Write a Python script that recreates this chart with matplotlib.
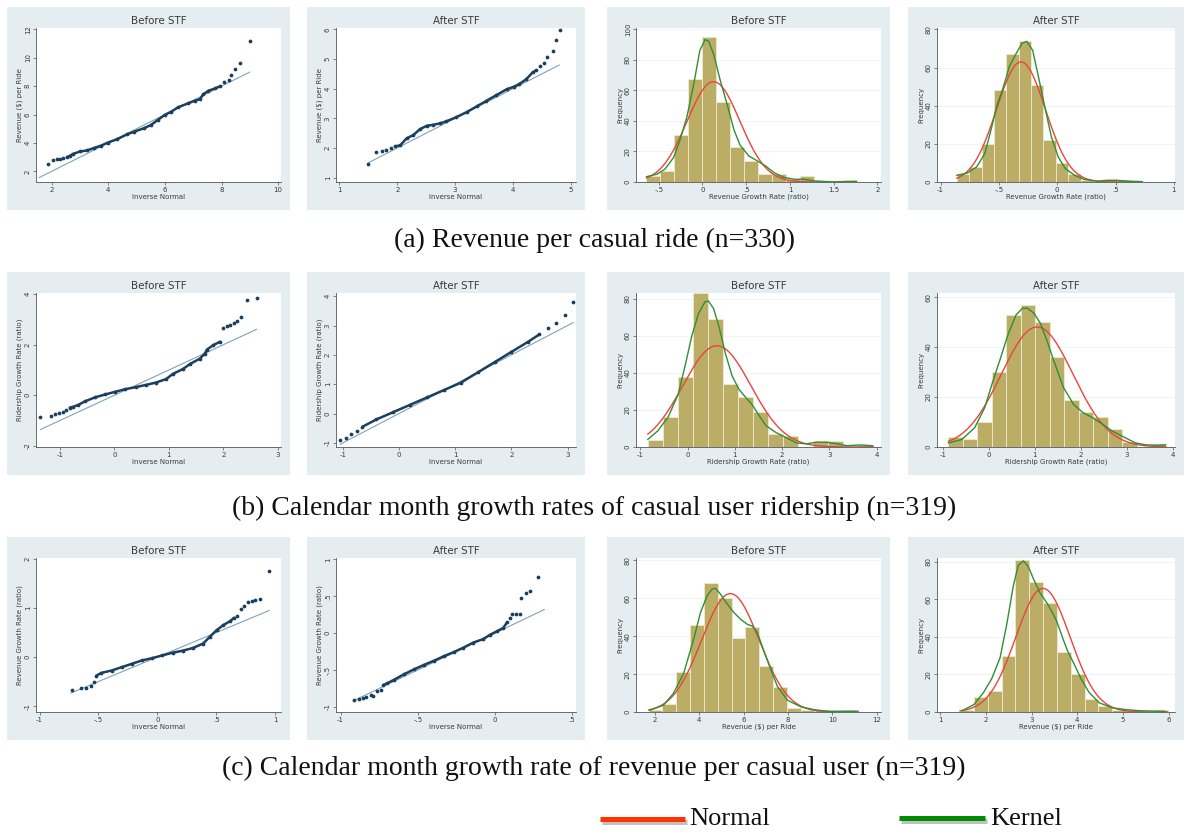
import numpy as np
import matplotlib.pyplot as plt
from matplotlib.patches import Rectangle
import matplotlib.patheffects as pe

W, H = 1189, 833
BG = '#e6edf1'
NAVY = '#1b3f5e'
REFLINE = '#7fa4b4'
BAR = '#bbad66'
BAR_EDGE = '#efe9cf'
RED = '#e8453c'
GREEN = '#2f8f35'
TXT = '#3a3a3a'

# ---------------- Q-Q data: (inverse normal, observed) ----------------
qq_a1_low = [(1.88, 2.54), (2.06, 2.82), (2.18, 2.86), (2.30, 2.89), (2.42, 2.91)]
qq_a1_body = [(2.54, 3.00), (2.65, 3.10), (2.77, 3.24), (3.01, 3.40), (3.25, 3.47), (3.49, 3.64),
              (3.73, 3.80), (3.99, 4.03), (4.32, 4.27), (4.68, 4.62), (4.92, 4.80), (5.27, 5.04),
              (5.51, 5.27), (5.75, 5.62), (5.99, 5.97), (6.23, 6.21), (6.46, 6.51), (6.82, 6.79),
              (7.06, 6.98), (7.24, 7.09), (7.36, 7.44), (7.54, 7.68), (7.77, 7.84), (7.95, 8.00)]
qq_a1_high = [(8.07, 8.31), (8.25, 8.43), (8.35, 8.78), (8.49, 9.20), (8.67, 9.66), (8.99, 11.18)]
qq_a1_ref = (1.56, 8.99)

qq_a2_low = [(1.50, 1.46), (1.64, 1.86), (1.73, 1.91), (1.80, 1.93), (1.89, 2.00)]
qq_a2_body = [(1.96, 2.05), (2.05, 2.09), (2.16, 2.32), (2.28, 2.44), (2.39, 2.63), (2.51, 2.75),
              (2.62, 2.78), (2.74, 2.83), (2.85, 2.90), (3.01, 3.03), (3.20, 3.21), (3.37, 3.40),
              (3.54, 3.59), (3.71, 3.78), (3.89, 3.98), (4.02, 4.07), (4.11, 4.16), (4.23, 4.32),
              (4.34, 4.55), (4.40, 4.62)]
qq_a2_high = [(4.47, 4.76), (4.53, 4.87), (4.59, 5.08), (4.69, 5.28), (4.74, 5.66), (4.82, 5.97)]
qq_a2_ref = (1.50, 4.80)

qq_b1_low = [(-1.36, -0.86), (-1.17, -0.81), (-1.09, -0.76), (-1.01, -0.72), (-0.94, -0.65), (-0.88, -0.58)]
qq_b1_body = [(-0.82, -0.49), (-0.76, -0.46), (-0.66, -0.38), (-0.54, -0.24), (-0.35, -0.08), (-0.17, 0.03),
              (0.02, 0.14), (0.20, 0.24), (0.39, 0.32), (0.58, 0.41), (0.76, 0.50), (0.95, 0.64),
              (1.07, 0.84), (1.26, 1.04), (1.39, 1.24), (1.57, 1.45), (1.66, 1.65), (1.70, 1.81),
              (1.82, 1.99), (1.94, 2.12)]
qq_b1_high = [(2.00, 2.66), (2.06, 2.73), (2.12, 2.80), (2.19, 2.86), (2.25, 2.93), (2.33, 3.11),
              (2.44, 3.78), (2.61, 3.85)]
qq_b1_ref = (-1.36, 2.61)

qq_b2_low = [(-1.05, -0.90), (-0.95, -0.82), (-0.85, -0.70), (-0.75, -0.58)]
qq_b2_body = [(-0.65, -0.45), (-0.40, -0.20), (-0.10, 0.05), (0.20, 0.30), (0.50, 0.55), (0.80, 0.80),
              (1.10, 1.05), (1.40, 1.40), (1.70, 1.75), (2.00, 2.10), (2.30, 2.45), (2.50, 2.70)]
qq_b2_high = [(2.65, 2.90), (2.80, 3.10), (2.95, 3.35), (3.10, 3.80)]
qq_b2_ref = (-1.05, 3.10)

qq_c1_low = [(-0.724, -0.664), (-0.647, -0.637), (-0.603, -0.623), (-0.566, -0.596), (-0.537, -0.500)]
qq_c1_body = [(-0.517, -0.377), (-0.474, -0.322), (-0.388, -0.274), (-0.302, -0.205), (-0.216, -0.137),
              (-0.129, -0.068), (-0.043, -0.021), (0.043, 0.034), (0.129, 0.089), (0.216, 0.130),
              (0.302, 0.185), (0.388, 0.274), (0.445, 0.411), (0.503, 0.548), (0.560, 0.651),
              (0.618, 0.733), (0.652, 0.801)]
qq_c1_high = [(0.675, 0.842), (0.710, 0.973), (0.733, 1.048), (0.770, 1.116), (0.805, 1.144),
              (0.833, 1.158), (0.871, 1.185), (0.948, 1.760)]
qq_c1_ref = (-0.733, 0.948)

qq_c2_low = [(-0.916, -0.901), (-0.880, -0.892), (-0.858, -0.878), (-0.833, -0.864), (-0.805, -0.840),
             (-0.790, -0.850), (-0.766, -0.784), (-0.740, -0.775)]
qq_c2_body = [(-0.723, -0.704), (-0.697, -0.680), (-0.655, -0.634), (-0.590, -0.559), (-0.526, -0.493),
              (-0.461, -0.432), (-0.397, -0.376), (-0.333, -0.315), (-0.268, -0.258), (-0.204, -0.197),
              (-0.139, -0.127), (-0.075, -0.080), (-0.032, -0.023), (0.011, 0.023), (0.054, 0.070),
              (0.079, 0.146)]
qq_c2_high = [(0.097, 0.202), (0.114, 0.258), (0.139, 0.263), (0.161, 0.258), (0.172, 0.474),
              (0.204, 0.540), (0.230, 0.577), (0.279, 0.756)]
qq_c2_ref = (-0.92, 0.32)

# ---------------- histogram data ----------------
# first bin edge, bin width, frequencies; fitted normal (mean, sd); kernel density curve
hist_a3_start, hist_a3_width = -0.64, 0.16
hist_a3_counts = [4, 7, 31, 67, 95, 52, 23, 14, 5, 5, 2, 4, 0, 0, 1]
norm_a3 = (0.126, 0.302)
kern_a3_x = [-0.64, -0.52, -0.43, -0.33, -0.26, -0.18, -0.10, -0.03, 0.03, 0.07, 0.13, 0.20, 0.28,
             0.36, 0.43, 0.53, 0.62, 0.72, 0.82, 0.93, 1.05, 1.16, 1.28, 1.50, 1.66, 1.76]
kern_a3_y = [3.5, 5.1, 8.4, 16, 27, 42, 64, 86, 93, 92, 83, 67, 51, 34, 24, 17, 14, 10.5, 6, 3,
             1.8, 1.8, 0.7, 0, 0.3, 0.4]

hist_a4_start, hist_a4_width = -0.86, 0.106
hist_a4_counts = [4, 8, 20, 48, 67, 74, 51, 22, 10, 4, 1, 0, 1, 1, 0]
norm_a4 = (-0.31, 0.209)
kern_a4_x = [-0.86, -0.77, -0.69, -0.62, -0.56, -0.52, -0.46, -0.41, -0.35, -0.30, -0.26, -0.21,
             -0.16, -0.10, -0.05, 0.01, 0.07, 0.15, 0.23, 0.34, 0.43, 0.51, 0.62, 0.73]
kern_a4_y = [3.5, 4.7, 7.9, 14.9, 29, 39.5, 50, 60.5, 67.5, 72.8, 73.7, 69, 55, 37.7, 23.7, 13, 7,
             3.5, 1.4, 0.4, 0.9, 0.9, 0.4, 0.2]

hist_b3_start, hist_b3_width = -0.84, 0.318
hist_b3_counts = [4, 16, 38, 83, 69, 34, 27, 19, 7, 6, 0, 3, 3, 0, 1]
norm_b3 = (0.62, 0.719)
kern_b3_x = [-0.84, -0.63, -0.41, -0.20, -0.06, 0.09, 0.23, 0.37, 0.44, 0.55, 0.66, 0.80, 0.94,
             1.09, 1.23, 1.37, 1.51, 1.66, 1.87, 2.09, 2.30, 2.51, 2.73, 2.94, 3.16, 3.37, 3.66, 3.91]
kern_b3_y = [4.1, 8.7, 16.2, 28.3, 43, 60, 72, 78.5, 78.9, 74.8, 65.5, 50.6, 38.5, 31, 26.8, 22.7,
             17.1, 11.5, 7.8, 5, 2.2, 1.7, 2.6, 2.6, 1.7, 0.7, 1.1, 0.7]

hist_b4_start, hist_b4_width = -0.88, 0.315
hist_b4_counts = [4, 3, 10, 30, 53, 57, 50, 36, 19, 14, 12, 7, 2, 0, 1]
norm_b4 = (1.05, 0.78)
kern_b4_x = [-0.88, -0.59, -0.31, -0.09, 0.09, 0.26, 0.41, 0.59, 0.73, 0.84, 0.98, 1.12, 1.26,
             1.41, 1.62, 1.84, 2.05, 2.26, 2.48, 2.69, 2.98, 3.19, 3.41, 3.62, 3.84]
kern_b4_y = [1.6, 3, 7.7, 15.8, 26.5, 36, 44.7, 52.8, 55.5, 55.5, 53.5, 49.5, 42.7, 34.6, 23.9,
             17.1, 13.7, 11.7, 9, 6.3, 3.6, 1.6, 0.9, 0.7, 0.9]

hist_c3_start, hist_c3_width = 1.71, 0.624
hist_c3_counts = [1, 4, 21, 46, 68, 60, 39, 45, 24, 13, 2, 1, 1, 0, 1]
norm_c3 = (5.40, 1.30)
kern_c3_x = [1.77, 2.38, 2.83, 3.29, 3.74, 4.05, 4.35, 4.58, 4.73, 4.95, 5.26, 5.56, 5.86, 6.17,
             6.39, 6.62, 6.92, 7.23, 7.53, 7.98, 8.59, 9.20, 9.80, 10.41, 11.17]
kern_c3_y = [0.9, 3.6, 9.8, 20.4, 38.2, 52.4, 61.3, 64.9, 65.2, 62.2, 56.9, 52.4, 48.9, 46.2,
             45.3, 41.8, 32, 22.2, 13.3, 6.2, 2.7, 1.2, 0.4, 0.4, 0.4]

hist_c4_start, hist_c4_width = 1.433, 0.303
hist_c4_counts = [1, 8, 11, 30, 81, 69, 58, 32, 20, 7, 3, 1, 1, 0, 1]
norm_c4 = (3.25, 0.594)
kern_c4_x = [1.48, 1.74, 1.95, 2.13, 2.31, 2.46, 2.60, 2.71, 2.82, 2.93, 3.04, 3.18, 3.36, 3.54,
             3.69, 3.79, 3.94, 4.08, 4.26, 4.48, 4.77, 5.06, 5.35, 5.64, 5.92]
kern_c4_y = [0.7, 4, 10.4, 17.8, 28.8, 47, 67, 78, 80.4, 77.3, 70.9, 63.6, 57.1, 48.9, 38.8, 32.4,
             25.1, 17.8, 10.4, 4.9, 2.2, 1.3, 0.7, 0.5, 0.4]

captions = ["(a) Revenue per casual ride (n=330)",
            "(b) Calendar month growth rates of casual user ridership (n=319)",
            "(c) Calendar month growth rate of revenue per casual user (n=319)"]
legend_labels = ["Normal", "Kernel"]

# ---------------- layout (pixels) ----------------
col_x = [(7, 290), (307, 585), (607, 890), (908, 1184)]
row_y = [7, 272, 537]
PANEL_H = 203

fig = plt.figure(figsize=(W / 100, H / 100), dpi=100)
fig.patch.set_facecolor('white')


def stata_fmt(v):
    s = f'{v:g}'
    if s.startswith('0.'):
        s = s[1:]
    elif s.startswith('-0.'):
        s = '-' + s[2:]
    return s


def make_panel(col, row, title, xlabel, ylabel, xlim, xticks, ylim, yticks, grid=False):
    bx0, bx1 = col_x[col]
    by0 = row_y[row]
    fig.patches.append(Rectangle((bx0 / W, 1 - (by0 + PANEL_H) / H), (bx1 - bx0) / W, PANEL_H / H,
                                 transform=fig.transFigure, facecolor=BG, edgecolor='none', zorder=-5))
    ax0, ax1 = bx0 + 29, bx1 - 9
    ay0, ay1 = by0 + 21, by0 + 175
    ax = fig.add_axes([ax0 / W, 1 - ay1 / H, (ax1 - ax0) / W, (ay1 - ay0) / H])
    ax.set_zorder(2)
    ax.set_facecolor('white')
    ax.set_xlim(*xlim)
    ax.set_ylim(*ylim)
    ax.set_xticks(xticks)
    ax.set_xticklabels([stata_fmt(v) for v in xticks])
    ax.set_yticks(yticks)
    ax.set_yticklabels([stata_fmt(v) for v in yticks], rotation=90, va='center')
    for s in ('top', 'right'):
        ax.spines[s].set_visible(False)
    for s in ('left', 'bottom'):
        ax.spines[s].set_color('#555555')
        ax.spines[s].set_linewidth(0.6)
    ax.tick_params(length=2.2, width=0.5, color='#555555', labelsize=5, labelcolor=TXT, pad=1.5)
    ax.set_title(title, fontsize=7.4, color=TXT, pad=3)
    ax.set_xlabel(xlabel, fontsize=5, color=TXT, labelpad=0.5)
    ax.set_ylabel(ylabel, fontsize=5, color=TXT, labelpad=1)
    if grid:
        ax.yaxis.grid(True, color='#edf1f3', lw=0.6)
        ax.set_axisbelow(True)
    return ax


def draw_qq(ax, low, body, high, ref):
    r = np.array(ref)
    ax.plot(r, r, color=REFLINE, lw=0.8, zorder=2)
    b = np.array(body)
    ax.plot(b[:, 0], b[:, 1], color=NAVY, lw=1.8, solid_capstyle='round', zorder=3)
    pts = np.array(low + body + high)
    ax.plot(pts[:, 0], pts[:, 1], 'o', ms=1.7, color=NAVY, mec=NAVY, zorder=4)


def draw_hist(ax, start, width, counts, norm, kx, ky):
    counts = np.asarray(counts, float)
    edges = start + width * np.arange(len(counts))
    ax.bar(edges, counts, width=width, align='edge', color=BAR, edgecolor=BAR_EDGE, lw=0.6, zorder=2)
    n = counts.sum()
    mu, sd = norm
    xs = np.linspace(edges[0], edges[-1] + width, 300)
    ys = n * width * np.exp(-0.5 * ((xs - mu) / sd) ** 2) / (sd * np.sqrt(2 * np.pi))
    ax.plot(xs, ys, color=RED, lw=1.0, zorder=4)
    ax.plot(kx, ky, color=GREEN, lw=1.0, zorder=5)


REV = r'Revenue (\$) per Ride'
GROW_REV = 'Revenue Growth Rate (ratio)'
GROW_RID = 'Ridership Growth Rate (ratio)'

# ---- row (a) ----
ax = make_panel(0, 0, 'Before STF', 'Inverse Normal', REV, (1.45, 10.1), [2, 4, 6, 8, 10],
                (1.25, 12.1), [2, 4, 6, 8, 10, 12])
draw_qq(ax, qq_a1_low, qq_a1_body, qq_a1_high, qq_a1_ref)
ax = make_panel(1, 0, 'After STF', 'Inverse Normal', REV, (0.94, 5.09), [1, 2, 3, 4, 5],
                (0.85, 6.05), [1, 2, 3, 4, 5, 6])
draw_qq(ax, qq_a2_low, qq_a2_body, qq_a2_high, qq_a2_ref)
ax = make_panel(2, 0, 'Before STF', GROW_REV, 'Frequency', (-0.76, 2.04), [-0.5, 0, 0.5, 1, 1.5, 2],
                (0, 100.6), [0, 20, 40, 60, 80, 100], grid=True)
draw_hist(ax, hist_a3_start, hist_a3_width, hist_a3_counts, norm_a3, kern_a3_x, kern_a3_y)
ax = make_panel(3, 0, 'After STF', GROW_REV, 'Frequency', (-1.03, 1.01), [-1, -0.5, 0, 0.5, 1],
                (0, 80.7), [0, 20, 40, 60, 80], grid=True)
draw_hist(ax, hist_a4_start, hist_a4_width, hist_a4_counts, norm_a4, kern_a4_x, kern_a4_y)

# ---- row (b) ----
ax = make_panel(0, 1, 'Before STF', 'Inverse Normal', GROW_RID, (-1.44, 3.06), [-1, 0, 1, 2, 3],
                (-2.05, 4.05), [-2, 0, 2, 4])
draw_qq(ax, qq_b1_low, qq_b1_body, qq_b1_high, qq_b1_ref)
ax = make_panel(1, 1, 'After STF', 'Inverse Normal', GROW_RID, (-1.12, 3.15), [-1, 0, 1, 2, 3],
                (-1.14, 4.11), [-1, 0, 1, 2, 3, 4])
draw_qq(ax, qq_b2_low, qq_b2_body, qq_b2_high, qq_b2_ref)
ax = make_panel(2, 1, 'Before STF', GROW_RID, 'Frequency', (-1.09, 4.09), [-1, 0, 1, 2, 3, 4],
                (0, 83.2), [0, 20, 40, 60, 80], grid=True)
draw_hist(ax, hist_b3_start, hist_b3_width, hist_b3_counts, norm_b3, kern_b3_x, kern_b3_y)
ax = make_panel(3, 1, 'After STF', GROW_RID, 'Frequency', (-1.13, 4.05), [-1, 0, 1, 2, 3, 4],
                (0, 61.6), [0, 20, 40, 60], grid=True)
draw_hist(ax, hist_b4_start, hist_b4_width, hist_b4_counts, norm_b4, kern_b4_x, kern_b4_y)

# ---- row (c) ----
ax = make_panel(0, 2, 'Before STF', 'Inverse Normal', GROW_REV, (-1.03, 1.05), [-1, -0.5, 0, 0.5, 1],
                (-1.12, 2.02), [-1, 0, 1, 2])
draw_qq(ax, qq_c1_low, qq_c1_body, qq_c1_high, qq_c1_ref)
ax = make_panel(1, 2, 'After STF', 'Inverse Normal', GROW_REV, (-1.03, 0.526), [-1, -0.5, 0, 0.5],
                (-1.07, 1.02), [-1, -0.5, 0, 0.5, 1])
draw_qq(ax, qq_c2_low, qq_c2_body, qq_c2_high, qq_c2_ref)
ax = make_panel(2, 2, 'Before STF', REV, 'Frequency', (1.14, 12.2), [2, 4, 6, 8, 10, 12],
                (0, 81.2), [0, 20, 40, 60, 80], grid=True)
draw_hist(ax, hist_c3_start, hist_c3_width, hist_c3_counts, norm_c3, kern_c3_x, kern_c3_y)
ax = make_panel(3, 2, 'After STF', REV, 'Frequency', (0.93, 6.14), [1, 2, 3, 4, 5, 6],
                (0, 81.9), [0, 20, 40, 60, 80], grid=True)
draw_hist(ax, hist_c4_start, hist_c4_width, hist_c4_counts, norm_c4, kern_c4_x, kern_c4_y)

# ---- captions ----
for cap, yc in zip(captions, [240, 508, 768]):
    fig.text(594 / W, 1 - yc / H, cap, ha='center', va='center', fontsize=20,
             family='Liberation Serif', color='#111111')

# ---- legend keys ----
lax = fig.add_axes([0, 0, 1, 1], facecolor='none')
lax.axis('off')
lax.set_xlim(0, W)
lax.set_ylim(H, 0)
shadow = [pe.SimpleLineShadow(offset=(1.2, -2), shadow_color='#777777', alpha=0.45), pe.Normal()]
lax.plot([600, 685], [819, 819], color='#ff3300', lw=3.6, solid_capstyle='butt', path_effects=shadow)
lax.text(689, 819, legend_labels[0], ha='left', va='center', fontsize=19, family='Liberation Serif',
         color='#111111')
lax.plot([899, 985], [818, 818], color='#008c00', lw=3.6, solid_capstyle='butt', path_effects=shadow)
lax.text(990, 819, legend_labels[1], ha='left', va='center', fontsize=19, family='Liberation Serif',
         color='#111111')

fig.savefig('out.png', dpi=100, facecolor='white')
